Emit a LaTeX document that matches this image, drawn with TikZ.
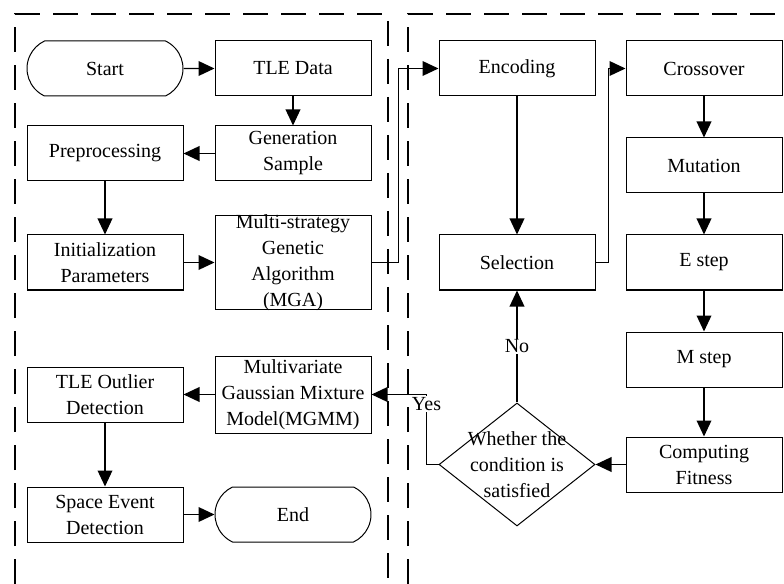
\documentclass[tikz,border=0pt]{standalone}
\usepackage{fontspec}
\newfontfamily\boxfont{Liberation Serif}
\usetikzlibrary{positioning, shapes.geometric, shapes.misc, arrows.meta}

\begin{document}
\begin{tikzpicture}[x=0.75pt, y=-0.75pt,
    box/.style={draw, rectangle, line width=0.75pt, minimum width=117pt, minimum height=41.25pt,
      inner sep=0pt, align=center, font=\boxfont\fontsize{15}{19.5}\selectfont},
    term/.style={box, rounded rectangle, rounded rectangle arc length=130},
    cond/.style={draw, diamond, line width=0.75pt, minimum width=117pt, minimum height=92.25pt, inner sep=0pt},
    lbl/.style={fill=white, inner sep=1pt, font=\boxfont\fontsize{15}{19.5}\selectfont},
    flow/.style={line width=1.1pt, ->},
    frame/.style={line width=1.25pt, dash pattern=on 19pt off 9.5pt}]
        \tikzset{>={Triangle[length=12pt,width=11pt]}}
        \useasboundingbox (0,0) rectangle (784,584);

        % Dashed frames
        \draw[frame] (15,584) -- (15,14) -- (388,14) -- (388,584);
        \draw[frame] (408,584) -- (408,14) -- (784,14);

        % Left part
        \node[term] (start) at (105,68.5) {Start};
        \node[box] (tle) at (293,68.5) {TLE Data};
        \node[box] (gen) at (293,153.5) {Generation\\Sample};
        \node[box] (prep) at (105,153.5) {Preprocessing};
        \node[box] (init) at (105,262.5) {Initialization\\Parameters};
        \node[box, minimum height=69.75pt, inner ysep=-2pt] (mga) at (293,262.5) {Multi-strategy\\Genetic\\Algorithm\\(MGA)};
        \node[box, minimum height=57.75pt] (mgmm) at (293,394.5) {Multivariate\\Gaussian Mixture\\Model(MGMM)};
        \node[box] (outl) at (105,394.5) {TLE Outlier\\Detection};
        \node[box] (event) at (105,514.5) {Space Event\\Detection};
        \node[term] (end) at (293,514.5) {End};

        % Right part (MGA loop)
        \node[box] (enc) at (517,68.5) {Encoding};
        \node[box] (sel) at (517,262.5) {Selection};
        \node[box] (cross) at (704,68.5) {Crossover};
        \node[box] (mut) at (704,165.5) {Mutation};
        \node[box] (estep) at (704,262.5) {E step};
        \node[box] (mstep) at (704,359.5) {M step};
        \node[box] (fit) at (704,464.5) {Computing\\Fitness};
        \node[cond] (cond) at (517,464.5) {};
        \node[align=center, inner sep=0pt, font=\boxfont\fontsize{15}{19.5}\selectfont] (condtext) at (cond) {Whether the\\condition is\\satisfied};

        % Arrows
        \draw[flow] (start) -- (tle);
        \draw[flow] (tle) -- (gen);
        \draw[flow] (gen) -- (prep);
        \draw[flow] (prep) -- (init);
        \draw[flow] (init) -- (mga);
        \draw[flow] (mga.east) -- ++(27,0) |- (enc.west);
        \draw[flow] (enc) -- (sel);
        \draw[flow] (sel.east) -- ++(13,0) |- (cross.west);
        \draw[flow] (cross) -- (mut);
        \draw[flow] (mut) -- (estep);
        \draw[flow] (estep) -- (mstep);
        \draw[flow] (mstep) -- (fit);
        \draw[flow] (fit) -- (cond);
        \draw[flow] (cond) -- node[lbl] (no) {No} (sel);
        \draw[flow] (cond.west) -- ++(-12,0) |- node[lbl, pos=0.5, yshift=-7pt] (yes) {Yes} (mgmm.east);
        \draw[flow] (mgmm) -- (outl);
        \draw[flow] (outl) -- (event);
        \draw[flow] (event) -- (end);
    \end{tikzpicture}
\end{document}
